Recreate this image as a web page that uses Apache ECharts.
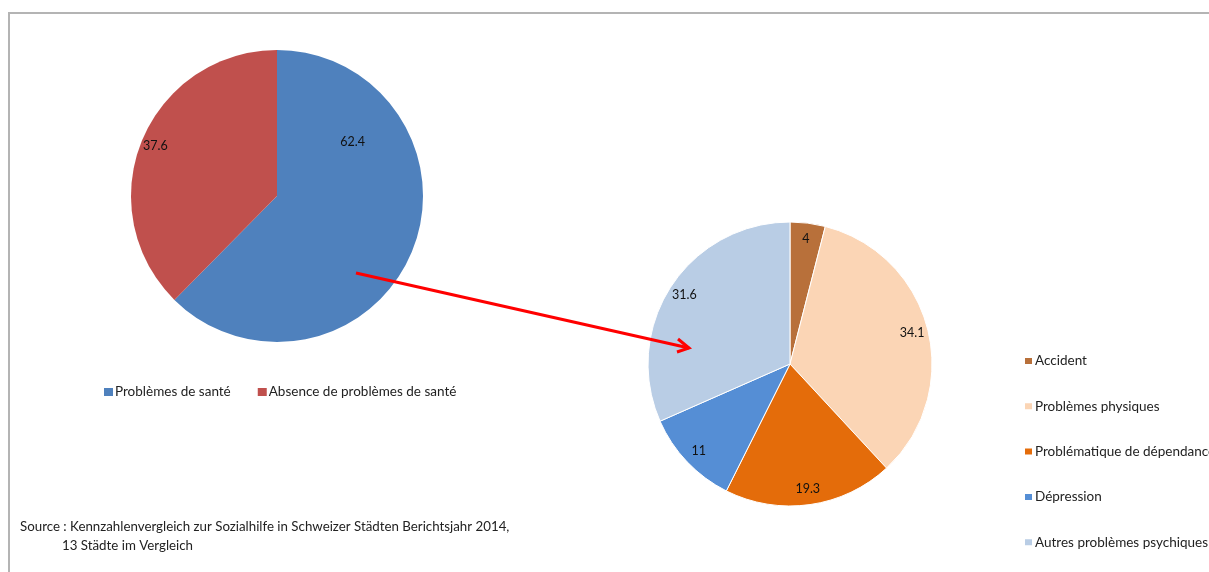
<!DOCTYPE html>
<html>
<head>
<meta charset="utf-8">
<script src="https://cdn.jsdelivr.net/npm/echarts@6/dist/echarts.min.js"></script>
<style>
    html, body { margin: 0; padding: 0; background: #fff; }
    #main { width: 1209px; height: 572px; }
</style>
</head>
<body>
<div id="main"></div>
<script>
var healthNames = ['Problèmes de santé', 'Absence de problèmes de santé'];
var healthValues = [62.4, 37.6];
var healthColors = ['#4F81BD', '#C0504D'];

var causeNames = ['Accident', 'Problèmes physiques', 'Problématique de dépendance', 'Dépression', 'Autres problèmes psychiques'];
var causeValues = [4, 34.1, 19.3, 11, 31.6];
var causeColors = ['#B8703A', '#FBD5B5', '#E46C0A', '#558ED5', '#B9CDE5'];

var font = 'Lato, "Liberation Sans", sans-serif';

function pieData(names, values, colors) {
    var out = [], i;
    for (i = 0; i < names.length; i++) {
        out.push({ name: names[i], value: values[i], itemStyle: { color: colors[i] } });
    }
    return out;
}

function labelData(names, values) {
    var out = [], i;
    for (i = 0; i < names.length; i++) {
        out.push({ name: names[i], value: values[i] });
    }
    return out;
}

var leftLabels = labelData(healthNames, healthValues);
// excel "best fit" moved the big slice label up
leftLabels[0].label = { offset: [-46, -104] };

var myChart = echarts.init(document.getElementById('main'));

var option = {
    animation: false,
    textStyle: { fontFamily: font },
    legend: [
        {
            data: healthNames,
            orient: 'horizontal',
            left: 104,
            top: 385,
            padding: 0,
            icon: 'rect',
            itemWidth: 9,
            itemHeight: 8,
            itemGap: 27,
            selectedMode: false,
            textStyle: { fontFamily: font, fontSize: 13.5, color: '#222', padding: [0, 0, 0, -3] }
        },
        {
            data: causeNames,
            orient: 'vertical',
            left: 1023,
            top: 354,
            padding: 0,
            icon: 'rect',
            itemWidth: 9,
            itemHeight: 8,
            itemGap: 31.3,
            selectedMode: false,
            textStyle: { fontFamily: font, fontSize: 13.5, color: '#222', lineHeight: 14, padding: [0, 0, 0, -3] }
        }
    ],
    series: [
        {
            type: 'pie',
            center: [277, 196],
            radius: [0, 146],
            startAngle: 90,
            silent: true,
            label: { show: false },
            labelLine: { show: false },
            itemStyle: { borderWidth: 0 },
            data: pieData(healthNames, healthValues, healthColors)
        },
        {
            type: 'pie',
            center: [790, 364],
            radius: [0, 142],
            startAngle: 90,
            silent: true,
            label: { show: false },
            labelLine: { show: false },
            itemStyle: { borderColor: '#fff', borderWidth: 1 },
            data: pieData(causeNames, causeValues, causeColors)
        },
        // label rings so that text sits near the rim like in excel
        {
            type: 'pie',
            center: [277, 196],
            radius: [111, 146],
            startAngle: 90,
            silent: true,
            itemStyle: { color: 'rgba(0,0,0,0)' },
            label: { show: true, position: 'inside', formatter: '{c}', color: '#111', fontSize: 12.5, fontFamily: font },
            data: leftLabels
        },
        {
            type: 'pie',
            center: [790, 364],
            radius: [104, 142],
            startAngle: 90,
            silent: true,
            itemStyle: { color: 'rgba(0,0,0,0)' },
            label: { show: true, position: 'inside', formatter: '{c}', color: '#111', fontSize: 12.5, fontFamily: font },
            data: labelData(causeNames, causeValues)
        }
    ],
    graphic: [
        {
            type: 'polyline',
            z: 100,
            shape: { points: [[9, 572], [9, 13], [1209, 13]] },
            style: { stroke: '#b4b4b4', lineWidth: 2, fill: null }
        },
        {
            type: 'line',
            z: 100,
            shape: { x1: 356, y1: 273, x2: 689, y2: 348 },
            style: { stroke: '#FF0000', lineWidth: 3 }
        },
        {
            type: 'polyline',
            z: 100,
            shape: { points: [[678, 339], [689, 348], [677, 352]] },
            style: { stroke: '#FF0000', lineWidth: 3, fill: null }
        },
        {
            type: 'text',
            z: 100,
            x: 20,
            y: 527,
            style: { text: 'Source : Kennzahlenvergleich zur Sozialhilfe in Schweizer Städten Berichtsjahr 2014,', font: '13.3px ' + font, fill: '#222', verticalAlign: 'middle' }
        },
        {
            type: 'text',
            z: 100,
            x: 62,
            y: 546,
            style: { text: '13 Städte im Vergleich', font: '13.3px ' + font, fill: '#222', verticalAlign: 'middle' }
        }
    ]
};

myChart.setOption(option);
</script>
</body>
</html>
